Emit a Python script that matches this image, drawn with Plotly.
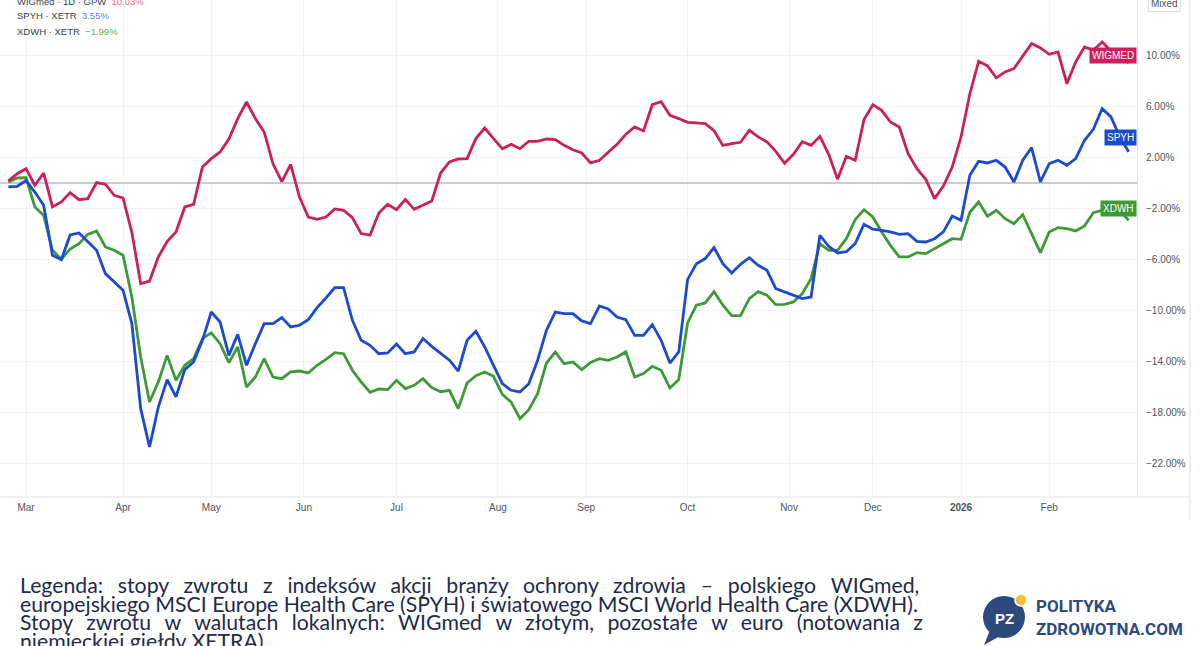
import plotly.graph_objects as go

# ---------------- data ----------------
# x = trading-session number counted from 25 Feb 2025 (every 2nd session)
sessions = list(range(0, 256, 2))

wigmed = [0.16, 0.73, 1.12, -0.18, 0.78, -1.88, -1.49, -0.76, -1.31, -1.23,
          0.03, -0.10, -0.97, -1.18, -3.87, -7.9, -7.69, -5.8, -4.6, -3.84,
          -1.88, -1.67, 1.25, 1.91, 2.43, 3.45, 5.05, 6.35, 5.05, 4.0,
          1.5, 0.1, 1.46, -1.1, -2.67, -2.85, -2.67, -2.04, -2.14, -2.72,
          -3.97, -4.1, -2.35, -1.67, -2.09, -1.28, -2.07, -1.73, -1.41, 0.78,
          1.65, 1.88, 1.91, 3.48, 4.31, 3.48, 2.69, 3.03, 2.69, 3.27,
          3.27, 3.45, 3.40, 2.95, 2.61, 2.35, 1.57, 1.78, 2.43, 3.03,
          3.82, 4.39, 4.08, 6.14, 6.38, 5.31, 5.05, 4.76, 4.71, 4.65,
          4.10, 2.95, 3.08, 3.19, 4.13, 3.61, 3.22, 2.48, 1.54, 2.25,
          3.24, 2.95, 3.66, 2.25, 0.3, 2.09, 1.78, 4.97, 6.14, 5.70,
          4.78, 4.39, 2.30, 1.12, 0.29, -1.23, -0.24, 1.25, 3.61, 7.0,
          9.54, 9.18, 8.24, 8.71, 8.97, 10.0, 10.93, 10.59, 10.09, 10.27,
          7.79, 9.49, 10.67, 10.41, 11.06, 10.35, 10.14, 9.41]

spyh = [-0.31, -0.26, 0.18, -0.71, -1.75, -5.67, -6.01, -4.08, -3.92, -4.63,
        -5.28, -7.11, -7.76, -8.42, -11.03, -17.7, -20.7, -17.57, -15.42, -16.78,
        -14.64, -14.04, -12.34, -10.12, -10.9, -13.52, -11.87, -14.3, -12.6, -11.03,
        -11.03, -10.56, -11.29, -11.16, -10.72, -9.78, -9.02, -8.21, -8.21, -10.77,
        -12.34, -12.73, -13.39, -13.33, -12.63, -13.39, -13.25, -12.2, -12.81, -13.33,
        -13.9, -14.75, -12.34, -11.63, -12.86, -14.3, -15.74, -16.26, -16.39, -15.74,
        -13.9, -11.56, -10.12, -10.25, -10.25, -10.82, -11.03, -9.65, -9.88, -10.51,
        -10.72, -11.95, -11.95, -11.11, -12.34, -14.12, -13.25, -7.58, -6.33, -5.93,
        -5.07, -6.33, -7.06, -6.38, -5.86, -6.46, -6.85, -8.29, -8.55, -8.81,
        -9.07, -8.94, -4.1, -4.97, -5.49, -5.39, -4.76, -3.24, -3.63, -3.71,
        -3.84, -4.03, -3.97, -4.58, -4.63, -4.37, -3.84, -2.59, -2.93, 0.6,
        1.7, 1.57, 1.78, 1.25, 0.08, 1.78, 2.77, 0.08, 1.52, 1.78,
        1.39, 1.91, 3.35, 4.21, 5.83, 5.18, 3.61, 2.45]

xdwh = [0.08, 0.39, 0.42, -1.88, -2.54, -5.28, -5.99, -5.18, -4.76, -4.03,
        -3.76, -5.02, -5.28, -5.67, -8.94, -13.65, -17.18, -15.6, -13.52, -15.48,
        -14.3, -13.78, -12.21, -11.76, -12.6, -14.09, -12.86, -16.0, -15.22, -13.78,
        -15.22, -15.35, -14.82, -14.75, -14.9, -14.3, -13.83, -13.31, -13.39, -14.69,
        -15.61, -16.42, -16.16, -16.21, -15.48, -16.13, -15.87, -15.35, -16.05, -16.37,
        -16.26, -17.7, -15.69, -15.11, -14.82, -15.16, -16.58, -17.18, -18.48, -17.78,
        -16.52, -14.12, -13.25, -14.17, -14.04, -14.64, -14.07, -13.78, -13.91, -13.65,
        -13.25, -15.22, -14.95, -14.38, -14.69, -16.08, -15.42, -10.98, -9.59, -9.41,
        -8.52, -9.59, -10.41, -10.41, -9.07, -8.52, -8.81, -9.54, -9.52, -9.33,
        -8.68, -7.5, -4.76, -5.28, -5.28, -4.37, -2.88, -2.09, -2.67, -3.84,
        -4.89, -5.8, -5.8, -5.46, -5.54, -5.18, -4.76, -4.37, -4.42, -2.3,
        -1.49, -2.61, -2.14, -2.8, -3.19, -2.48, -3.97, -5.46, -3.84, -3.5,
        -3.58, -3.76, -3.37, -2.33, -2.14, -2.04, -2.14, -2.93]

last_values = {"WIGmed": 10.03, "SPYH": 3.55, "XDWH": -1.99}

month_sessions = [4, 26, 46, 67, 88, 111, 131, 154, 177, 196, 216, 236]
month_labels = ["Mar", "Apr", "May", "Jun", "Jul", "Aug", "Sep", "Oct", "Nov", "Dec",
                "<b>2026</b>", "Feb"]

y_ticks = [10, 6, 2, -2, -6, -10, -14, -18, -22]
y_ticktext = ["10.00%", "6.00%", "2.00%", "\u22122.00%", "\u22126.00%", "\u221210.00%",
              "\u221214.00%", "\u221218.00%", "\u221222.00%"]

caption_lines = [
    "Legenda: stopy zwrotu z indeksów akcji branży ochrony zdrowia – polskiego WIGmed,",
    "europejskiego MSCI Europe Health Care (SPYH) i światowego MSCI World Health Care (XDWH).",
    "Stopy zwrotu w walutach lokalnych: WIGmed w złotym, pozostałe w euro (notowania z",
    "niemieckiej giełdy XETRA).",
]
# extra inter-word padding that imitates the justified paragraph of the original
caption_gap = ["\u2009\u2009\u2009\u200a", "", "\u2009\u2009\u200a\u200a", ""]

# ---------------- style ----------------
C_WIG = "#cc1f5c"
C_SPY = "#1c4ad0"
C_XDW = "#3d9a37"
W, H = 1200, 646
PL, PR, PT, PB = 0, 63, 0, 150
PW, PH = W - PL - PR, H - PT - PB


def px(x):
    return (x - PL) / PW


def py(y):
    return (PH + PT - y) / PH


fig = go.Figure()
for name, vals, col in [("XDWH", xdwh, C_XDW), ("SPYH", spyh, C_SPY), ("WIGmed", wigmed, C_WIG)]:
    fig.add_trace(go.Scatter(x=sessions, y=vals, mode="lines", name=name,
                             line=dict(color=col, width=2.8), hoverinfo="skip"))

axis_font = dict(family="Liberation Sans, Arial, sans-serif", size=10, color="#50535e")

fig.update_layout(
    width=W, height=H,
    margin=dict(l=PL, r=PR, t=PT, b=PB),
    paper_bgcolor="white", plot_bgcolor="white",
    showlegend=False,
    xaxis=dict(range=[-1.9, 255.9], tickvals=month_sessions, ticktext=month_labels,
               showgrid=True, gridcolor="#f1f3f8", gridwidth=1, zeroline=False,
               showline=False, ticks="", tickfont=axis_font, ticklabelstandoff=4,
               fixedrange=True),
    yaxis=dict(range=[-24.55, 14.35], side="right", tickvals=y_ticks, ticktext=y_ticktext,
               showgrid=True, gridcolor="#f1f3f8", gridwidth=1,
               zeroline=True, zerolinecolor="#c9cbd1", zerolinewidth=2,
               showline=False, ticks="", tickfont=axis_font, ticklabelstandoff=8,
               fixedrange=True),
)

shapes = [
    dict(type="line", xref="paper", yref="paper", x0=px(1137.5), x1=px(1137.5), y0=py(0), y1=py(497),
         line=dict(color="#e0e3eb", width=1)),
    dict(type="line", xref="paper", yref="paper", x0=px(1190), x1=px(1190), y0=py(0), y1=py(520),
         line=dict(color="#e0e3eb", width=1)),
    dict(type="line", xref="paper", yref="paper", x0=px(0), x1=px(1190), y0=py(497), y1=py(497),
         line=dict(color="#e0e3eb", width=1)),
    # logo
    dict(type="path", xref="paper", yref="paper",
         path=f"M {px(990)} {py(630)} L {px(984)} {py(645)} L {px(1000)} {py(636)} Z",
         fillcolor="#2c4a7c", line=dict(width=0)),
    dict(type="circle", xref="paper", yref="paper", x0=px(983), x1=px(1025), y0=py(638), y1=py(596),
         fillcolor="#2c4a7c", line=dict(width=0)),
    dict(type="circle", xref="paper", yref="paper", x0=px(1015), x1=px(1027), y0=py(606), y1=py(594),
         fillcolor="#f3c12f", line=dict(color="white", width=1.5)),
]
fig.update_layout(shapes=shapes)

ann = []
legend_font = dict(family="Liberation Sans, Arial, sans-serif", size=9.5, color="#3b3e48")
legend_rows = [
    ("WIGmed · 1D · GPW", f"{last_values['WIGmed']:.2f}%", "#e0638e", 1),
    ("SPYH · XETR", f"{last_values['SPYH']:.2f}%", "#5b7fdc", 16),
    ("XDWH · XETR", f"\u2212{abs(last_values['XDWH']):.2f}%", "#5cae55", 31),
]
for label, val, col, yy in legend_rows:
    ann.append(dict(xref="paper", yref="paper", x=px(15), y=py(yy), xanchor="left", yanchor="middle",
                    text=f"{label}  <span style='color:{col}'>{val}</span>", showarrow=False,
                    font=legend_font))

ann.append(dict(xref="paper", yref="paper", x=px(1164), y=py(3), xanchor="center", yanchor="middle",
                text="Mixed", showarrow=False, font=dict(family="Liberation Sans, Arial, sans-serif",
                                                         size=10, color="#50535e"),
                bgcolor="white", bordercolor="#e0e3eb", borderwidth=1, borderpad=2))

for name, col in [("WIGmed", C_WIG), ("SPYH", C_SPY), ("XDWH", C_XDW)]:
    ann.append(dict(xref="paper", yref="y", x=1.0, y=last_values[name], xanchor="right",
                    yanchor="middle", text=name.upper(), showarrow=False,
                    font=dict(family="Liberation Sans, Arial, sans-serif", size=10, color="white"),
                    bgcolor=col, borderpad=2))

cap_font = dict(family="Lato, Carlito, Calibri, sans-serif", size=21.25, color="#1f2b47")
for i, line in enumerate(caption_lines):
    text = line.replace(" ", " " + caption_gap[i]) if caption_gap[i] else line
    ann.append(dict(xref="paper", yref="paper", x=px(18), y=py(585 + i * 18.6), xanchor="left",
                    yanchor="middle", text=text, showarrow=False, font=cap_font))

ann.append(dict(xref="paper", yref="paper", x=px(1004), y=py(618), xanchor="center", yanchor="middle",
                text="<b>PZ</b>", showarrow=False,
                font=dict(family="Liberation Sans, Arial, sans-serif", size=15, color="white")))
logo_font = dict(family="Liberation Sans Narrow, Roboto, sans-serif", size=17, color="#2c4a7c")
ann.append(dict(xref="paper", yref="paper", x=px(1034), y=py(606), xanchor="left", yanchor="middle",
                text="<b>POLITYKA</b>", showarrow=False, font=logo_font))
ann.append(dict(xref="paper", yref="paper", x=px(1034), y=py(629), xanchor="left", yanchor="middle",
                text="<b>ZDROWOTNA.COM</b>", showarrow=False, font=logo_font))

fig.update_layout(annotations=ann)
fig.write_html("out.html", config={"displayModeBar": False})
